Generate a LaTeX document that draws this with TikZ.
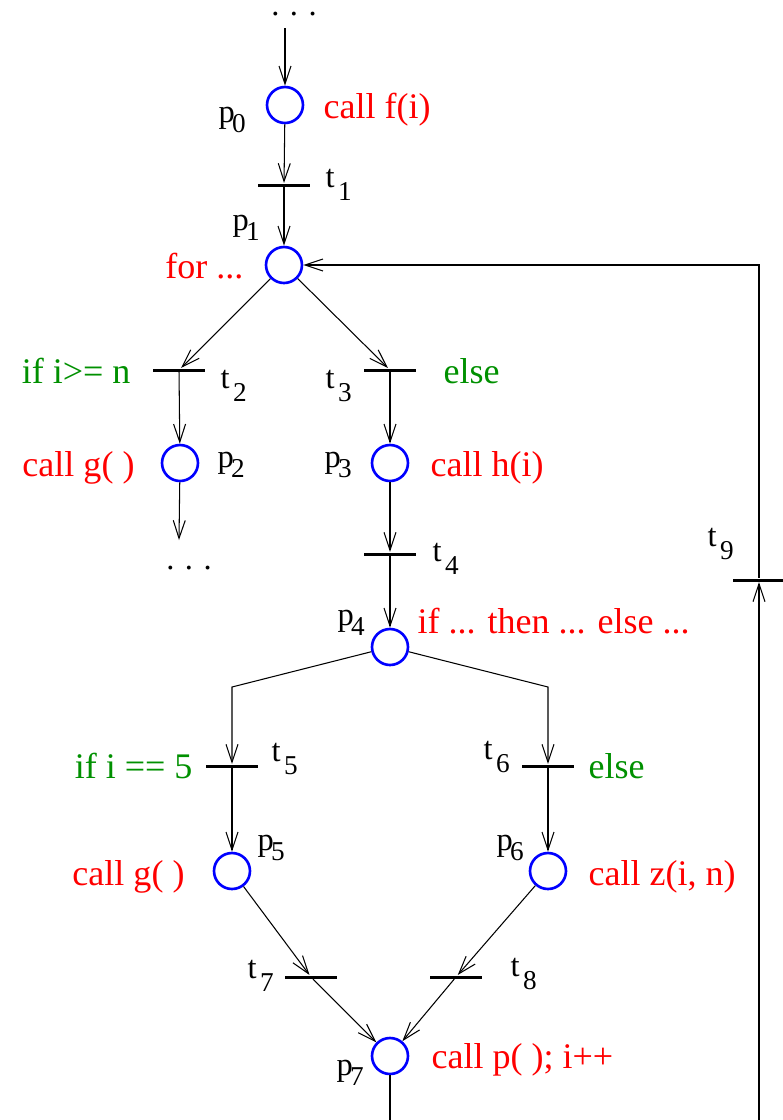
\documentclass[tikz,border=0pt]{standalone}
\usepackage{fontspec}
\setmainfont{Liberation Serif}
\usepackage{xcolor}
\usepackage{tikz}
\usetikzlibrary{arrows.meta}
\definecolor{placeblue}{RGB}{0,0,255}
\definecolor{condgreen}{RGB}{0,144,0}
\newcommand{\plab}[1]{p\kern-1.5pt\raisebox{-6pt}{\fontsize{15.5}{16}\selectfont #1}}
\newcommand{\tlab}[1]{t\kern2pt\raisebox{-7.5pt}{\fontsize{15.5}{16}\selectfont #1}}

\begin{document}
\begin{tikzpicture}[x=0.02cm, y=-0.02cm, line width=0.6pt,
  place/.style={circle, draw=placeblue, line width=1.5pt, minimum size=0.72cm, inner sep=0pt},
  trans/.style={fill=black, minimum width=1.04cm, minimum height=0.06cm, inner sep=0pt},
  arr/.style={-{Straight Barb[length=3.6mm, width=2.4mm]}},
  code/.style={text=red, font=\fontsize{20.5}{24}\selectfont, inner sep=0pt},
  cond/.style={text=condgreen, font=\fontsize{20.5}{24}\selectfont, inner sep=0pt},
  lab/.style={font=\fontsize{18.5}{20}\selectfont, inner sep=0pt, anchor=base west}]
\useasboundingbox (0,0) rectangle (782,1120);

% places
\node[place] (p0) at (285,105) {};
\node[place] (p1) at (284,265) {};
\node[place] (p2) at (180,463) {};
\node[place] (p3) at (390,463) {};
\node[place] (p4) at (390,647) {};
\node[place] (p5) at (232,871) {};
\node[place] (p6) at (548,871) {};
\node[place] (p7) at (390,1056) {};

% transitions
\node[trans] (t1) at (284,185) {};
\node[trans] (t2) at (179,370) {};
\node[trans] (t3) at (390,370) {};
\node[trans] (t4) at (390,554) {};
\node[trans] (t5) at (232,766) {};
\node[trans] (t6) at (548,766) {};
\node[trans] (t7) at (311,977) {};
\node[trans] (t8) at (456,977) {};
\node[trans] (t9) at (759,580) {};

% free ends and bends
\coordinate (s0) at (285,28);
\coordinate (e2) at (179,540);
\coordinate (c4l) at (232,687);
\coordinate (c4r) at (548,687);
\coordinate (b7) at (390,1120);
\coordinate (b9) at (759,1120);
\node[lab, anchor=base] (dtop) at (294,15) {.\kern6pt.\kern6pt.};
\node[lab, anchor=base] (dbot) at (189,569) {.\kern6pt.\kern6pt.};

% place and transition names
\node[lab] (lp0) at (218,122) {\plab{0}};
\node[lab] (lp1) at (232,230) {\plab{1}};
\node[lab] (lp2) at (217,467) {\plab{2}};
\node[lab] (lp3) at (324,467) {\plab{3}};
\node[lab] (lp4) at (337,625) {\plab{4}};
\node[lab] (lp5) at (257,850) {\plab{5}};
\node[lab] (lp6) at (496,850) {\plab{6}};
\node[lab] (lp7) at (336,1075) {\plab{7}};
\node[lab] (lt1) at (325,187) {\tlab{1}};
\node[lab] (lt2) at (220,388) {\tlab{2}};
\node[lab] (lt3) at (325,388) {\tlab{3}};
\node[lab] (lt4) at (432,561) {\tlab{4}};
\node[lab] (lt5) at (271,761) {\tlab{5}};
\node[lab] (lt6) at (483,759) {\tlab{6}};
\node[lab] (lt7) at (247,978) {\tlab{7}};
\node[lab] (lt8) at (510,976) {\tlab{8}};
\node[lab] (lt9) at (707,546) {\tlab{9}};

% program text
\node[code, anchor=base west] (cf) at (323,118) {call f(i)};
\node[code, anchor=base east] (cfor) at (244,278) {for ...};
\node[code, anchor=base east] (cg1) at (135,476) {call g( )};
\node[code, anchor=base west] (ch) at (430,476) {call h(i)};
\node[code, anchor=base west] (cif) at (417,633) {if ... then ... else ...};
\node[code, anchor=base east] (cg2) at (185,885) {call g( )};
\node[code, anchor=base west] (cz) at (588,885) {call z(i, n)};
\node[code, anchor=base west] (cp) at (431,1068) {call p( ); i++};
\node[cond, anchor=base east] (g2) at (131,383) {if i>= n};
\node[cond, anchor=base west] (g3) at (443,383) {else};
\node[cond, anchor=base east] (g5) at (193,778) {if i == 5};
\node[cond, anchor=base west] (g6) at (588,778) {else};

% arcs
\draw[arr] (s0) -- (p0);
\draw[arr] (p0) -- (t1);
\draw[arr] (t1) -- (p1);
\draw[arr] (p1) -- (t2);
\draw[arr] (p1) -- (t3);
\draw[arr] (t2) -- (p2);
\draw[arr] (p2) -- (e2);
\draw[arr] (t3) -- (p3);
\draw[arr] (p3) -- (t4);
\draw[arr] (t4) -- (p4);
\draw[arr] (p4) -- (c4l) -- (t5);
\draw[arr] (p4) -- (c4r) -- (t6);
\draw[arr] (t5) -- (p5);
\draw[arr] (t6) -- (p6);
\draw[arr] (p5) -- (t7);
\draw[arr] (p6) -- (t8);
\draw[arr] (t7) -- (p7);
\draw[arr] (t8) -- (p7);
\draw (p7) -- (b7);
\draw[arr] (b9) -- (t9);
\draw[arr] (t9) |- (p1);
\end{tikzpicture}
\end{document}
